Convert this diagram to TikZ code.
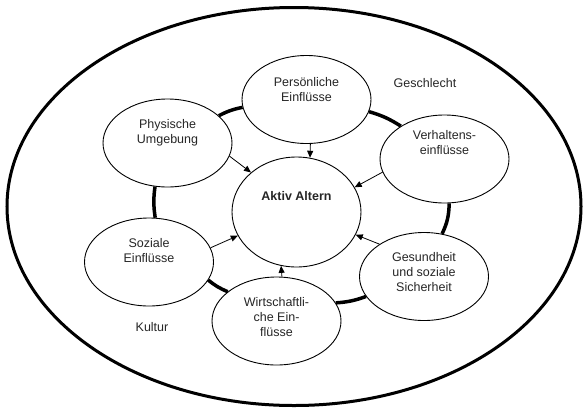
\documentclass[tikz,border=0pt]{standalone}
\usepackage{fontspec}
\setmainfont{Liberation Sans}
\usetikzlibrary{shapes.geometric,arrows.meta}

\begin{document}
\begin{tikzpicture}[x=1pt,y=1pt,
  factor/.style={ellipse,draw,line width=0.9pt,fill=white,minimum width=129pt,minimum height=88pt,inner sep=0pt},
  txt/.style={font=\fontsize{12.5}{15}\selectfont,align=center,text=black!85},
  ring/.style={line width=3.5pt},
  influence/.style={line width=0.8pt,-{Triangle[length=7pt,width=6pt]}}]
\useasboundingbox (0,0) rectangle (583,-410);
\draw[line width=3pt] (294,-206.5) ellipse [x radius=287,y radius=199];
\node[factor,minimum height=110pt,label={[txt,font=\bfseries\fontsize{12.5}{15}\selectfont,yshift=16pt]center:Aktiv Altern}] (aktiv) at (296.5,-212) {};
\node[factor,label={[txt,yshift=10pt]center:Physische\\Umgebung}] (phys) at (167.5,-143) {};
\node[factor,label={[txt,yshift=10pt]center:Persönliche\\Einflüsse}] (pers) at (306.5,-99.5) {};
\node[factor,label={[txt,yshift=16pt]center:Verhaltens-\\einflüsse}] (verh) at (444.5,-159) {};
\node[factor,label={[txt,yshift=4pt]center:Gesundheit\\und soziale\\Sicherheit}] (ges) at (424,-276.5) {};
\node[factor,label={[txt,yshift=4pt]center:Wirtschaftli-\\che Ein-\\flüsse}] (wirt) at (276.5,-321) {};
\node[factor,label={[txt,yshift=11pt]center:Soziale\\Einflüsse}] (soz) at (149,-262) {};
\node[txt] (geschlecht) at (425,-83) {Geschlecht};
\node[txt] (kultur) at (152,-327) {Kultur};
\draw[ring] (phys.28) to[bend left=8] (pers.187);
\draw[ring] (pers.-11) to[bend left=8] (verh.143);
\draw[ring] (verh.-84) to[bend left=12] (ges.67);
\draw[ring] (ges.199) to[bend left=8] (wirt.17);
\draw[ring] (wirt.149) to[bend left=8] (soz.-17);
\draw[ring] (soz.82) to[bend left=8] (phys.-106);
\draw[influence] (phys.-12) -- (aktiv.139);
\draw[influence] (pers.-85) -- (aktiv.76);
\draw[influence] (verh.192) -- (aktiv.23);
\draw[influence] (ges.144) -- (aktiv.-21);
\draw[influence] (wirt.83) -- (aktiv.-106);
\draw[influence] (soz.13) -- (aktiv.202);
\end{tikzpicture}
\end{document}
